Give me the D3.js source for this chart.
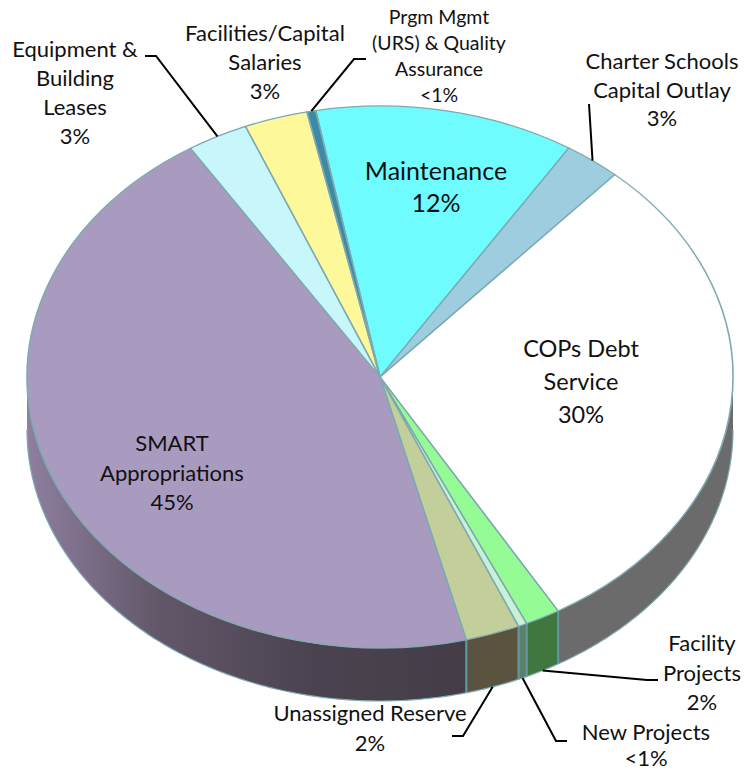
<!DOCTYPE html>
<html>
<head>
<meta charset="utf-8">
<script src="https://cdn.jsdelivr.net/npm/d3@7"></script>
<style>
html, body { margin: 0; padding: 0; background: #fff; }
svg { display: block; }
text { font-family: Lato, "Open Sans", sans-serif; fill: #111; text-anchor: middle; }
</style>
</head>
<body>
<svg id="chart" width="750" height="772"></svg>
<script>
// Capital budget shares, clockwise from the Maintenance slice
const categories = ["Maintenance", "Charter Schools Capital Outlay", "COPs Debt Service",
  "Facility Projects", "New Projects", "Unassigned Reserve", "SMART Appropriations",
  "Equipment & Building Leases", "Facilities/Capital Salaries",
  "Prgm Mgmt (URS) & Quality Assurance"];
const shares = [11.9, 2.6, 30.0, 1.6, 0.4, 2.49, 44.91, 2.8, 2.9, 0.4];
const percentLabels = ["12%", "3%", "30%", "2%", "<1%", "2%", "45%", "3%", "3%", "<1%"];
const labelLines = [
  ["Maintenance"], ["Charter Schools", "Capital Outlay"], ["COPs Debt", "Service"],
  ["Facility", "Projects"], ["New Projects"], ["Unassigned Reserve"], ["SMART", "Appropriations"],
  ["Equipment &", "Building", "Leases"], ["Facilities/Capital", "Salaries"],
  ["Prgm Mgmt", "(URS) & Quality", "Assurance"]
];
const topColors = ["#6ffcff", "#9ecde0", "#ffffff", "#95fb95", "#c6f3d6", "#c3cf9b", "#a99bbf",
  "#c8f7fb", "#fdf99a", "#3d8aa5"];
const wallColors = ["#2f7f80", "#4f7080", "#6a6a6a", "#3f773f", "#5c7f6c", "#5a5340", "#4a424e",
  "#60777a", "#77764a", "#1f4a58"];

// Layout of the tilted disc and its annotations
const cx = 380, cy = 377, rx = 353, ry = 271, depth = 53;
const startDeg = -10.5;
const rimColor = "#7fa9b0", edgeColor = "#5f98a0";

const labelLayout = [
  { x: 436, y: 180, lh: 32, size: 25 },
  { x: 662, y: 69, lh: 28.5, size: 22 },
  { x: 581, y: 357, lh: 33, size: 23.5 },
  { x: 702, y: 651, lh: 29.5, size: 22 },
  { x: 646, y: 740, lh: 26, size: 22 },
  { x: 370, y: 721, lh: 30, size: 22 },
  { x: 172, y: 451, lh: 29.5, size: 22 },
  { x: 75, y: 57, lh: 29, size: 22 },
  { x: 265, y: 41, lh: 29, size: 22 },
  { x: 439, y: 24, lh: 26, size: 19.5 }
];
// Elbow and tail of each leader line, keyed by slice index
const leaders = [
  { index: 1, onWall: false, path: [[589, 104]] },
  { index: 3, onWall: true, path: [[647, 680], [658, 680]] },
  { index: 4, onWall: true, path: [[556, 741], [567, 741]] },
  { index: 5, onWall: true, path: [[463, 736], [452, 736]] },
  { index: 7, onWall: false, path: [[156, 56], [145, 56]] },
  { index: 9, onWall: false, path: [[354, 59], [366, 59]] }
];

const svg = d3.select("#chart");
const defs = svg.append("defs");

const slices = d3.pie().sort(null).value(d => d)
  .startAngle(startDeg * Math.PI / 180)
  .endAngle((startDeg + 360) * Math.PI / 180)(shares);

const rimX = a => cx + rx * Math.sin(a);
const rimY = a => cy - ry * Math.cos(a);

// Side wall: the front half of the rim only, from 3 o'clock round to 9 o'clock
const wallFrom = Math.PI / 2, wallTo = 3 * Math.PI / 2;
const line = d3.line();
function wallPath(a0, a1) {
  const angles = d3.range(a0, a1, 0.01).concat([a1]);
  const upper = angles.map(a => [rimX(a), rimY(a)]);
  const lower = angles.slice().reverse().map(a => [rimX(a), rimY(a) + depth]);
  return line(upper.concat(lower)) + "Z";
}

// Long walls fade toward their outer end, as if lit from the side
function wallFill(i, a0, a1) {
  if (a1 - a0 < 0.6) return wallColors[i];
  const id = "wall" + i;
  const g = defs.append("linearGradient").attr("id", id)
    .attr("gradientUnits", "userSpaceOnUse")
    .attr("x1", rimX(a0)).attr("x2", rimX(a1)).attr("y1", 0).attr("y2", 0);
  const stops = i === 2
    ? [[0, "#6b6b6b"], [1, "#6b6b6b"]]
    : [[0, "#443d48"], [0.35, "#4b434f"], [0.7, "#625769"], [1, "#8f7fa0"]];
  stops.forEach(s => g.append("stop").attr("offset", s[0]).attr("stop-color", s[1]));
  return "url(#" + id + ")";
}

const walls = svg.append("g");
slices.forEach((s, i) => {
  const a0 = Math.max(s.startAngle, wallFrom), a1 = Math.min(s.endAngle, wallTo);
  if (a1 <= a0) return;
  walls.append("path").attr("d", wallPath(a0, a1))
    .attr("fill", wallFill(i, a0, a1))
    .attr("stroke", "none");
  // Seams between wall segments
  [a0, a1].forEach(a => {
    if (a === wallFrom || a === wallTo) return;
    walls.append("line")
      .attr("x1", rimX(a)).attr("y1", rimY(a))
      .attr("x2", rimX(a)).attr("y2", rimY(a) + depth)
      .attr("stroke", edgeColor).attr("stroke-width", 2);
  });
});

// Thin outline along the bottom of the wall
const bottomAngles = d3.range(wallFrom, wallTo, 0.01).concat([wallTo]);
svg.append("path")
  .attr("d", line(bottomAngles.map(a => [rimX(a), rimY(a) + depth])))
  .attr("fill", "none").attr("stroke", rimColor).attr("stroke-width", 1.2);

// Top face: a circular pie squashed into an ellipse
const arc = d3.arc().innerRadius(0).outerRadius(rx);
const face = svg.append("g")
  .attr("transform", `translate(${cx},${cy}) scale(1,${ry / rx})`);
face.selectAll("path").data(slices).join("path")
  .attr("d", arc)
  .attr("fill", (d, i) => topColors[i])
  .attr("stroke", rimColor)
  .attr("stroke-width", 1.6)
  .attr("stroke-linejoin", "round");

// Leader lines start from the middle of their slice
const leaderLine = svg.append("g");
leaders.forEach(l => {
  const s = slices[l.index];
  const mid = (s.startAngle + s.endAngle) / 2;
  const start = [rimX(mid), rimY(mid) + (l.onWall ? depth : 0)];
  leaderLine.append("path")
    .attr("d", line([start].concat(l.path)))
    .attr("fill", "none").attr("stroke", "#000").attr("stroke-width", 2);
});

// Slice labels: name lines followed by the percentage
categories.forEach((c, i) => {
  const p = labelLayout[i];
  const t = svg.append("text").attr("font-size", p.size);
  labelLines[i].concat(percentLabels[i]).forEach((txt, k) => {
    t.append("tspan").attr("x", p.x).attr("y", p.y + k * p.lh).text(txt);
  });
});
</script>
</body>
</html>
